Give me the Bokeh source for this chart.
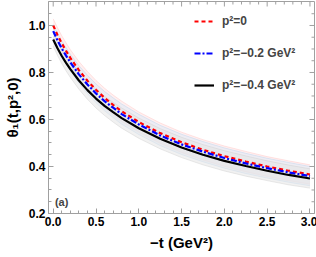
from bokeh.plotting import figure
from bokeh.models import (FixedTicker, PrintfTickFormatter, Legend,
                          LegendItem, Label, Range1d, ColumnDataSource)
from bokeh.embed import file_html
from bokeh.resources import INLINE

# ---- data ----
t = [0.0, 0.05, 0.1, 0.15, 0.2, 0.3, 0.4, 0.5, 0.6, 0.7, 0.8, 1.0,
     1.25, 1.5, 1.75, 2.0, 2.25, 2.5, 2.75, 3.0]
theta_p0 = [1.000, 0.960, 0.924, 0.892, 0.862, 0.810, 0.765, 0.726, 0.692, 0.662,
            0.635, 0.589, 0.542, 0.503, 0.471, 0.444, 0.421, 0.400, 0.382, 0.366]
theta_p02 = [0.976, 0.937, 0.902, 0.872, 0.843, 0.792, 0.749, 0.711, 0.678, 0.650,
             0.623, 0.579, 0.532, 0.494, 0.463, 0.436, 0.413, 0.393, 0.375, 0.359]
theta_p04 = [0.940, 0.903, 0.870, 0.841, 0.814, 0.766, 0.725, 0.689, 0.658, 0.631,
             0.606, 0.563, 0.518, 0.481, 0.450, 0.424, 0.402, 0.382, 0.364, 0.349]
band_halfwidth = [0.028, 0.030, 0.032, 0.034, 0.035, 0.037, 0.039, 0.040, 0.041, 0.042,
                  0.043, 0.043, 0.043, 0.043, 0.043, 0.043, 0.043, 0.042, 0.042, 0.041]

labels = ["p\u00b2=0", "p\u00b2=\u22120.2 GeV\u00b2", "p\u00b2=\u22120.4 GeV\u00b2"]
x_ticks = [0.0, 0.5, 1.0, 1.5, 2.0, 2.5, 3.0]
x_minor = [0.1, 0.2, 0.3, 0.4, 0.6, 0.7, 0.8, 0.9, 1.1, 1.2, 1.3, 1.4, 1.6, 1.7, 1.8, 1.9,
           2.1, 2.2, 2.3, 2.4, 2.6, 2.7, 2.8, 2.9]
y_ticks = [0.2, 0.4, 0.6, 0.8, 1.0]
y_minor = [0.25, 0.3, 0.35, 0.45, 0.5, 0.55, 0.65, 0.7, 0.75, 0.85, 0.9, 0.95, 1.05]

FONT = "Liberation Sans"
AX = "#a0a0a0"
X0, X1 = -0.055, 3.053
Y0, Y1 = 0.2, 1.102
FRAME_W, FRAME_H = 266, 212

p = figure(frame_width=FRAME_W, frame_height=FRAME_H, output_backend="svg",
           toolbar_location=None,
           x_range=Range1d(X0, X1), y_range=Range1d(Y0, Y1),
           min_border_left=47, min_border_right=3, min_border_top=1, min_border_bottom=44)
p.xgrid.visible = False
p.ygrid.visible = False
p.outline_line_color = AX
p.background_fill_color = "white"

band_cols = [("#ffc4c4", "#ffe2e2"), ("#b9d3ef", "#dbe8f6"), ("#cfcfcf", "#e3e3e3")]
series = [theta_p0, theta_p02, theta_p04]
for ys, (edge, fill) in zip(series, band_cols):
    lo = [v - d for v, d in zip(ys, band_halfwidth)]
    hi = [v + d for v, d in zip(ys, band_halfwidth)]
    src = ColumnDataSource(dict(t=t, lo=lo, hi=hi))
    p.varea(x="t", y1="lo", y2="hi", source=src, fill_color=fill, fill_alpha=0.5)
    p.line(x="t", y="lo", source=src, line_color=edge, line_width=1, line_alpha=0.45)
    p.line(x="t", y="hi", source=src, line_color=edge, line_width=1, line_alpha=0.45)

r0 = p.line(t, theta_p0, line_color="#ff0000", line_width=2.2, line_dash="4 3")
r1 = p.line(t, theta_p02, line_color="#0000ff", line_width=2.2, line_dash="6 2 2 2")
r2 = p.line(t, theta_p04, line_color="black", line_width=2.2)

legend = Legend(items=[LegendItem(label=labels[0], renderers=[r0]),
                       LegendItem(label=labels[1], renderers=[r1]),
                       LegendItem(label=labels[2], renderers=[r2])],
                location=(146, 118), margin=0, padding=0, spacing=12,
                glyph_width=20, glyph_height=20, label_height=20, label_standoff=8,
                label_text_font=FONT, label_text_font_style="bold",
                label_text_font_size="12px", background_fill_alpha=0,
                border_line_color=None)
p.add_layout(legend)


def style_axis(ax, ticks, minor):
    ax.ticker = FixedTicker(ticks=ticks, minor_ticks=minor)
    ax.formatter = PrintfTickFormatter(format="%.1f")
    ax.axis_line_color = AX
    ax.major_tick_line_color = AX
    ax.minor_tick_line_color = AX
    ax.major_tick_in = 5
    ax.major_tick_out = 0
    ax.minor_tick_in = 3
    ax.minor_tick_out = 0
    ax.major_label_text_font = FONT
    ax.major_label_text_font_style = "bold"
    ax.major_label_text_font_size = "12px"
    ax.major_label_text_color = "black"
    ax.major_label_standoff = 3
    ax.axis_label_text_font = FONT
    ax.axis_label_text_font_style = "bold"
    ax.axis_label_text_font_size = "15px"
    ax.axis_label_text_color = "black"
    ax.axis_label_standoff = 5


style_axis(p.xaxis[0], x_ticks, x_minor)
style_axis(p.yaxis[0], y_ticks, y_minor)
p.xaxis[0].axis_label = "\u2212t (GeV\u00b2)"
p.yaxis[0].axis_label = "\u03b8\u2081(t,p\u00b2,0)"

# mirrored ticks on the top and right frame edges
dy_major = 5 * (Y1 - Y0) / FRAME_H
dy_minor = 3 * (Y1 - Y0) / FRAME_H
dx_major = 5 * (X1 - X0) / FRAME_W
dx_minor = 3 * (X1 - X0) / FRAME_W
for xs, dl in ((x_ticks, dy_major), (x_minor, dy_minor)):
    p.segment(x0=xs, y0=[Y1] * len(xs), x1=xs, y1=[Y1 - dl] * len(xs),
              line_color=AX, line_width=1)
for ysx, dl in ((y_ticks, dx_major), (y_minor, dx_minor)):
    p.segment(x0=[X1] * len(ysx), y0=ysx, x1=[X1 - dl] * len(ysx), y1=ysx,
              line_color=AX, line_width=1)

p.add_layout(Label(x=0.02, y=0.247, text="(a)", text_font=FONT, text_font_style="bold",
                   text_font_size="11px", text_baseline="middle", text_align="left"))

open("out.html", "w").write(file_html(p, INLINE))
